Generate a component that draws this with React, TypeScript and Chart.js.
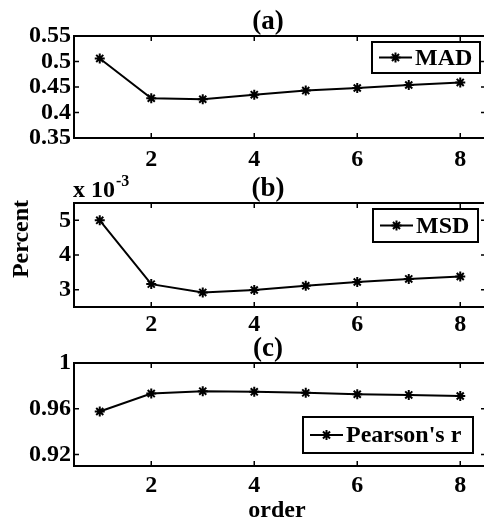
import React, { useEffect, useRef } from "react";
import { Chart, registerables } from "chart.js";

Chart.register(...registerables);

// ---------- data ----------
const orders = [1, 2, 3, 4, 5, 6, 7, 8];
const xTickValues = [2, 4, 6, 8];
const xTickLabels = ["2", "4", "6", "8"];

const madValues = [0.506, 0.428, 0.426, 0.435, 0.443, 0.448, 0.454, 0.459];
const msdValues = [0.005, 0.00316, 0.00292, 0.00299, 0.00311, 0.00322, 0.00331, 0.00338];
const pearsonValues = [0.9576, 0.9733, 0.9754, 0.9748, 0.9739, 0.9727, 0.9721, 0.9712];

const madTicks = [0.35, 0.4, 0.45, 0.5, 0.55];
const madTickLabels = ["0.35", "0.4", "0.45", "0.5", "0.55"];
const msdTicks = [0.003, 0.004, 0.005];
const msdTickLabels = ["3", "4", "5"];
const pearsonTicks = [0.92, 0.96, 1];
const pearsonTickLabels = ["0.92", "0.96", "1"];

const panelTitles = ["(a)", "(b)", "(c)"];
const seriesLabels = ["MAD", "MSD", "Pearson's r"];
const xAxisLabel = "order";
const yAxisLabel = "Percent";
const msdScaleBase = "x 10";
const msdScaleExp = "-3";

// ---------- layout ----------
const W = 490;
const H = 517;
const FONT = "'Liberation Serif', 'Times New Roman', serif";
const AREA_LEFT = 74;
const AREA_RIGHT = 486;
const XH = 40;

type Box = { x: number; y: number; w: number; h: number };
type Panel = {
  top: number;
  bottom: number;
  ymin: number;
  ymax: number;
  yTicks: number[];
  yLabels: string[];
  values: number[];
  label: string;
  title: string;
  xPad: number;
  legend: Box;
  extra?: (ctx: CanvasRenderingContext2D, area: any) => void;
};

const panels: Panel[] = [
  {
    top: 36, bottom: 138, ymin: 0.35, ymax: 0.55,
    yTicks: madTicks, yLabels: madTickLabels, values: madValues,
    label: seriesLabels[0], title: panelTitles[0], xPad: 7,
    legend: { x: 372, y: 42, w: 108, h: 31 },
  },
  {
    top: 203, bottom: 307, ymin: 0.0025, ymax: 0.0055,
    yTicks: msdTicks, yLabels: msdTickLabels, values: msdValues,
    label: seriesLabels[1], title: panelTitles[1], xPad: 3,
    legend: { x: 373, y: 209, w: 105, h: 33 },
    extra: (ctx, area) => {
      ctx.fillStyle = "#000";
      ctx.textAlign = "left";
      ctx.textBaseline = "alphabetic";
      ctx.font = `bold 24px ${FONT}`;
      ctx.fillText(msdScaleBase, area.left - 1, area.top - 6);
      const w = ctx.measureText(msdScaleBase).width;
      ctx.font = `bold 16px ${FONT}`;
      ctx.fillText(msdScaleExp, area.left - 1 + w + 1, area.top - 17);
      ctx.save();
      ctx.font = `bold 24px ${FONT}`;
      ctx.translate(22, 239);
      ctx.rotate(-Math.PI / 2);
      ctx.textAlign = "center";
      ctx.textBaseline = "middle";
      ctx.fillText(yAxisLabel, 0, 0);
      ctx.restore();
    },
  },
  {
    top: 363, bottom: 466, ymin: 0.91, ymax: 1.0,
    yTicks: pearsonTicks, yLabels: pearsonTickLabels, values: pearsonValues,
    label: seriesLabels[2], title: panelTitles[2], xPad: 5,
    legend: { x: 303, y: 417, w: 170, h: 36 },
    extra: (ctx) => {
      ctx.fillStyle = "#000";
      ctx.font = `bold 24px ${FONT}`;
      ctx.textAlign = "center";
      ctx.textBaseline = "alphabetic";
      ctx.fillText(xAxisLabel, 277, 517);
    },
  },
];

function drawStar(ctx: CanvasRenderingContext2D, x: number, y: number, r: number) {
  ctx.beginPath();
  ctx.moveTo(x - r, y); ctx.lineTo(x + r, y);
  ctx.moveTo(x, y - r); ctx.lineTo(x, y + r);
  const d = r * Math.SQRT1_2;
  ctx.moveTo(x - d, y - d); ctx.lineTo(x + d, y + d);
  ctx.moveTo(x - d, y + d); ctx.lineTo(x + d, y - d);
  ctx.stroke();
}

const framePlugin = {
  id: "matlabFrame",
  afterDraw(chart: any, _args: any, opts: any) {
    const ctx: CanvasRenderingContext2D = chart.ctx;
    const a = chart.chartArea;
    const xs = chart.scales.x;
    const ys = chart.scales.y;
    const p: Panel = opts.panel;
    ctx.save();
    ctx.strokeStyle = "#000";
    ctx.lineWidth = 2;
    ctx.strokeRect(a.left, a.top, a.right - a.left, a.bottom - a.top);
    const tl = 5;
    ctx.beginPath();
    xs.ticks.forEach((t: any) => {
      const px = xs.getPixelForValue(t.value);
      ctx.moveTo(px, a.bottom); ctx.lineTo(px, a.bottom - tl);
      ctx.moveTo(px, a.top); ctx.lineTo(px, a.top + tl);
    });
    ys.ticks.forEach((t: any) => {
      const py = ys.getPixelForValue(t.value);
      ctx.moveTo(a.left, py); ctx.lineTo(a.left + tl, py);
      ctx.moveTo(a.right, py); ctx.lineTo(a.right - tl, py);
    });
    ctx.lineWidth = 1.5;
    ctx.stroke();

    // title
    ctx.fillStyle = "#000";
    ctx.font = `bold 27px ${FONT}`;
    ctx.textAlign = "center";
    ctx.textBaseline = "alphabetic";
    ctx.fillText(p.title, 268, a.top - 7);

    // legend
    const b = p.legend;
    ctx.fillStyle = "#fff";
    ctx.fillRect(b.x, b.y, b.w, b.h);
    ctx.lineWidth = 2;
    ctx.strokeRect(b.x, b.y, b.w, b.h);
    const my = b.y + b.h / 2;
    ctx.beginPath();
    ctx.moveTo(b.x + 7, my); ctx.lineTo(b.x + 40, my);
    ctx.stroke();
    ctx.lineWidth = 2;
    drawStar(ctx, b.x + 23.5, my, 5);
    ctx.fillStyle = "#000";
    ctx.font = `bold 24px ${FONT}`;
    ctx.textAlign = "left";
    ctx.textBaseline = "middle";
    ctx.fillText(p.label, b.x + 43, my + 1);

    if (p.extra) p.extra(ctx, a);
    ctx.restore();
  },
};

function PanelChart({ panel }: { panel: Panel }) {
  const ref = useRef<HTMLCanvasElement | null>(null);
  useEffect(() => {
    if (!ref.current) return;
    const tickFont = { family: FONT, size: 24, weight: "bold" as const };
    const chart = new Chart(ref.current, {
      type: "line",
      data: {
        datasets: [
          {
            label: panel.label,
            data: orders.map((x, i) => ({ x, y: panel.values[i] })),
            borderColor: "#000",
            backgroundColor: "#000",
            borderWidth: 2,
            pointStyle: "star",
            pointRadius: 5,
            pointBorderWidth: 2,
            pointBorderColor: "#000",
            pointBackgroundColor: "#000",
            tension: 0,
            fill: false,
          },
        ],
      },
      options: {
        animation: false,
        responsive: false,
        events: [],
        layout: {
          autoPadding: false,
          padding: { top: panel.top, bottom: H - panel.bottom - XH, left: 0, right: W - AREA_RIGHT },
        },
        plugins: {
          legend: { display: false },
          title: { display: false },
          tooltip: { enabled: false },
          matlabFrame: { panel },
        } as any,
        scales: {
          x: {
            type: "linear",
            min: 0.5,
            max: 8.5,
            grid: { display: false, drawTicks: false },
            border: { display: false },
            ticks: {
              color: "#000",
              font: tickFont,
              padding: panel.xPad,
              maxRotation: 0,
              autoSkip: false,
              callback: (v: any) => {
                const i = xTickValues.indexOf(Number(v));
                return i >= 0 ? xTickLabels[i] : "";
              },
            },
            afterBuildTicks: (s: any) => {
              s.ticks = xTickValues.map((v) => ({ value: v }));
            },
            afterFit: (s: any) => {
              s.height = XH;
              s.paddingLeft = 0;
              s.paddingRight = 0;
            },
          },
          y: {
            type: "linear",
            min: panel.ymin,
            max: panel.ymax,
            grid: { display: false, drawTicks: false },
            border: { display: false },
            ticks: {
              color: "#000",
              font: tickFont,
              padding: 3,
              autoSkip: false,
              callback: (v: any) => {
                const i = panel.yTicks.findIndex((t) => Math.abs(t - Number(v)) < 1e-9);
                return i >= 0 ? panel.yLabels[i] : "";
              },
            },
            afterBuildTicks: (s: any) => {
              s.ticks = panel.yTicks.map((v) => ({ value: v }));
            },
            afterFit: (s: any) => {
              s.width = AREA_LEFT;
              s.paddingTop = 0;
              s.paddingBottom = 0;
            },
          },
        },
      },
      plugins: [framePlugin as any],
    });
    return () => chart.destroy();
  }, [panel]);
  return (
    <canvas
      ref={ref}
      width={W}
      height={H}
      style={{ position: "absolute", left: 0, top: 0, width: W, height: H }}
    />
  );
}

export default function App() {
  return (
    <div
      style={{
        position: "absolute",
        left: 0,
        top: 0,
        width: 484,
        height: 517,
        overflow: "hidden",
        background: "#fff",
      }}
    >
      {panels.map((p, i) => (
        <PanelChart key={i} panel={p} />
      ))}
    </div>
  );
}
